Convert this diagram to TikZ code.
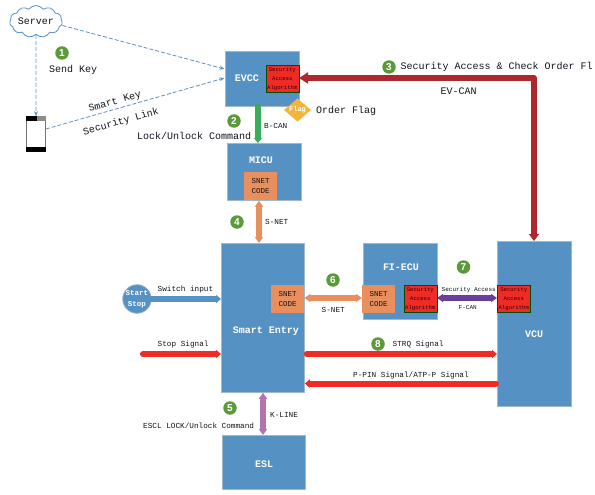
\documentclass[tikz,border=0pt]{standalone}
\usepackage{fontspec}
\setmainfont{Liberation Sans}
\newfontfamily\monof{Liberation Mono}
\usetikzlibrary{shapes.symbols,shapes.geometric,arrows.meta}
\definecolor{blk}{HTML}{5591C2}
\definecolor{orng}{HTML}{E98F5E}
\definecolor{redb}{HTML}{EF2B25}
\definecolor{grn}{HTML}{38AD5B}
\definecolor{dred}{HTML}{AF272E}
\definecolor{purp}{HTML}{6A3E9E}
\definecolor{pink}{HTML}{B274B0}
\definecolor{numg}{HTML}{5B9A3A}
\definecolor{yel}{HTML}{F4B43C}
\definecolor{dash}{HTML}{5F90BA}
\definecolor{txt}{HTML}{10141C}
\tikzset{
 block/.style={draw=black!22!blk!50!white,line width=.8pt,fill=blk,anchor=north west,inner sep=0pt},
 blocklabel/.style={text=white,font=\monof\bfseries\fontsize{10}{12}\selectfont,inner sep=0pt},
 snet/.style={fill=orng,anchor=north west,inner sep=0pt,align=center,text=txt,font=\monof\fontsize{7.5}{10.5}\selectfont,minimum width=33pt,minimum height=28pt},
 secbox/.style={draw=black!70!green,line width=.6pt,fill=redb,anchor=north west,inner sep=0pt,align=center,text=black!80!red,font=\monof\fontsize{5.6}{9}\selectfont,minimum width=33pt,minimum height=27pt,text width=33pt},
 num/.style={circle,fill=numg,text=white,inner sep=0pt,minimum size=13.5pt,font=\bfseries\fontsize{10}{12}\selectfont},
 big/.style={text=txt,font=\monof\fontsize{10}{12}\selectfont,inner sep=0pt,anchor=west},
 small/.style={text=txt,font=\monof\fontsize{7.7}{10}\selectfont,inner sep=0pt,anchor=west},
 tiny/.style={text=txt,font=\monof\fontsize{6}{8}\selectfont,inner sep=0pt,anchor=west},
 dashline/.style={draw=dash,dash pattern=on 4pt off 2pt,line width=.8pt,-{Stealth[length=5pt,width=4pt]}},
 fat/.style={line width=6pt,-{Triangle[length=5pt,width=8pt]},line cap=round},
 fatboth/.style={line width=6pt,{Triangle[length=6pt,width=8pt]}-{Triangle[length=6pt,width=8pt]}},
}
\begin{document}
\begin{tikzpicture}[x=1pt,y=-1pt]
\useasboundingbox (0,0) rectangle (595,495);
% blocks
\node[block,minimum width=74pt,minimum height=55pt] (evcc) at (224.5,51) {};
\node[block,minimum width=74pt,minimum height=57pt] (micu) at (227,143) {};
\node[block,minimum width=83pt,minimum height=149pt] (smart) at (221,243) {};
\node[block,minimum width=74pt,minimum height=76pt] (fi) at (363,243) {};
\node[block,minimum width=74pt,minimum height=165pt] (vcu) at (497,241) {};
\node[block,minimum width=83pt,minimum height=54pt] (esl) at (222,435) {};
\node[blocklabel] (evccl) at (247,78) {EVCC};
\node[blocklabel] (micul) at (261,160) {MICU};
\node[blocklabel] (smartl) at (266,331) {Smart Entry};
\node[blocklabel] (fil) at (401,267) {FI-ECU};
\node[blocklabel] (vcul) at (534,334) {VCU};
\node[blocklabel] (esll) at (264,464) {ESL};
% inner boxes
\node[secbox] (sec1) at (265.5,65) {Security\\Access\\Algorithm};
\node[secbox] (sec2) at (403.5,285) {Security\\Access\\Algorithm};
\node[secbox] (sec3) at (497,285) {Security\\Access\\Algorithm};
\node[snet] (sn1) at (244,172) {SNET\\CODE};
\node[snet] (sn2) at (271,285) {SNET\\CODE};
\node[snet] (sn3) at (362,285) {SNET\\CODE};
% flag
\node[diamond,fill=yel,text=white,inner sep=0pt,minimum width=27pt,minimum height=20pt,font=\monof\bfseries\fontsize{7}{8}\selectfont] (flag) at (297.5,110) {Flag};
% server, phone
\node[cloud,cloud puffs=11,cloud puff arc=110,aspect=2,draw=blk,fill=white,line width=.8pt,inner sep=0pt,minimum width=50pt,minimum height=26pt,text=txt,font=\monof\fontsize{10}{12}\selectfont] (server) at (36,21.5) {Server};
\node[draw=black!55,fill=white,line width=.7pt,rounded corners=1.5pt,minimum width=19pt,minimum height=35pt,inner sep=0pt] (phone) at (36,134) {};
\fill[black] (phone.north west) rectangle (37,121);
\fill[black!45] (37,116.5) rectangle (45.5,121);
\fill[black] (phone.south west) rectangle (phone.east |- 0,147);
% start button
\node[circle,fill=blk,draw=black!15!blk!60!white,line width=.8pt,inner sep=0pt,minimum size=26pt,align=center,text=white,font=\monof\bfseries\fontsize{7.5}{11}\selectfont] (start) at (137,299) {Start\\Stop};
% dashed links
\draw[dashline] (server.south) -- (phone.north);
\draw[dashline] (server.east) ++(0,4) coordinate (sv) (sv) -- (evcc.west |- 0,69);
\draw[dashline] (phone.east) ++(0,-5) coordinate (ph) (ph) -- (evcc.west |- 0,78);
% thick connectors
\draw[fat,grn,line cap=round] (evcc.south -| 258,0) -- (micu.north -| 258,0);
\draw[fatboth,orng] (micu.south -| 259,0) -- (smart.north -| 259,0);
\coordinate (evbend) at (534,78);
\draw[dred,line width=6pt,{Triangle[length=9pt,width=11pt]}-{Triangle[length=7pt,width=10pt]},line join=round] (sec1.east |- evbend) -- (evbend) -- (vcu.north -| evbend);
\draw[fat,blk] (start.east) -- (smart.west |- start);
\coordinate (stopl) at (143,354);
\draw[fat,redb] (stopl) -- (smart.west |- stopl);
\draw[fat,redb] (smart.east |- stopl) ++(2,0) coordinate (strql) (strql) -- (vcu.west |- stopl);
\coordinate (ppinr) at (496,383.5);
\draw[fat,redb] (ppinr) -- (smart.east |- ppinr);
\coordinate (sney) at (0,298);
\draw[fatboth,orng] (sn2.east |- sney) -- (sn3.west |- sney);
\draw[fatboth,purp] (sec2.east |- sney) -- (sec3.west |- sney);
\draw[fatboth,pink] (smart.south -| 263,0) -- (esl.north -| 263,0);
% numbers
\node[num] (n1) at (62,53) {1};
\node[num] (n2) at (234,121) {2};
\node[num] (n3) at (389,67) {3};
\node[num] (n4) at (237,222) {4};
\node[num] (n5) at (230,408) {5};
\node[num] (n6) at (333,280) {6};
\node[num] (n7) at (463.5,267) {7};
\node[num] (n8) at (378,344) {8};
% labels
\node[big] (t1) at (49,70) {Send Key};
\node[big,anchor=center,rotate=16] (t2) at (115,102) {Smart Key};
\node[big,anchor=center,rotate=16] (t3) at (121,122) {Security Link};
\node[big] (t4) at (137,136) {Lock/Unlock Command};
\node[small] (t5) at (264,126) {B-CAN};
\node[big] (t6) at (316,111) {Order Flag};
\node[big] (t7) at (400.5,67) {Security Access \& Check Order Fl};
\node[big] (t8) at (440.5,91) {EV-CAN};
\node[small] (t9) at (265,222) {S-NET};
\node[small] (t10) at (157.5,290) {Switch input};
\node[small] (t11) at (157.5,345) {Stop Signal};
\node[small] (t12) at (321.5,310) {S-NET};
\node[tiny] (t13) at (441.5,289.5) {Security Access};
\node[tiny] (t14) at (458.5,307.5) {F-CAN};
\node[small] (t15) at (392.5,345) {STRQ Signal};
\node[small] (t16) at (353,376) {P-PIN Signal/ATP-P Signal};
\node[small] (t17) at (270,415) {K-LINE};
\node[small] (t18) at (143,426) {ESCL LOCK/Unlock Command};
\end{tikzpicture}
\end{document}
